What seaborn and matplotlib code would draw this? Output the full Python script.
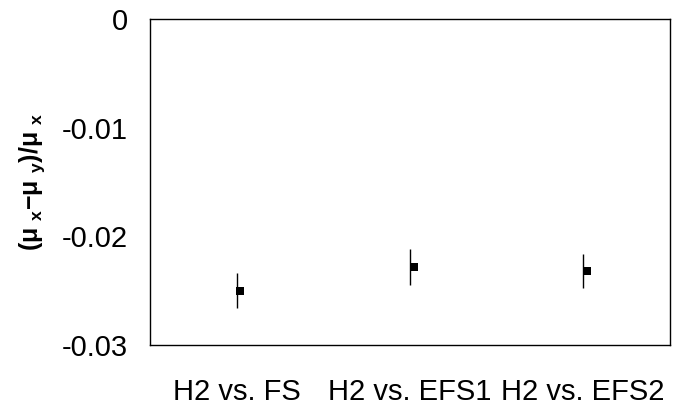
import matplotlib
matplotlib.use("Agg")
import matplotlib.pyplot as plt
import seaborn as sns
import pandas as pd

# Relative difference of means for each comparison, with half-width of interval
comparisons = ["H2 vs. FS", "H2 vs. EFS1", "H2 vs. EFS2"]
rel_diff = [-0.0250, -0.0228, -0.0232]
half_width = [0.00165, 0.00165, 0.0016]

y_ticks = [0, -0.01, -0.02, -0.03]
y_tick_labels = ["0", "-0.01", "-0.02", "-0.03"]

sns.set_theme(style="white")
plt.rcParams["font.family"] = ["Liberation Sans", "DejaVu Sans"]
plt.rcParams["mathtext.fontset"] = "custom"
plt.rcParams["mathtext.rm"] = "Liberation Sans"
plt.rcParams["mathtext.bf"] = "Liberation Sans:bold"
plt.rcParams["mathtext.it"] = "Liberation Sans:italic"

df = pd.DataFrame({"comparison": comparisons, "value": rel_diff, "err": half_width})
df["pos"] = range(len(df))

fig = plt.figure(figsize=(6.82, 4.11), dpi=100)
ax = fig.add_axes([0.22, 0.161, 0.762, 0.793])

# vertical interval lines
ax.vlines(df["pos"], df["value"] - df["err"], df["value"] + df["err"],
          color="black", linewidth=1.0, zorder=2)
# mean markers, nudged slightly right of the interval line
sns.scatterplot(x=df["pos"] + 0.022, y=df["value"], marker="s", s=30,
                color="black", edgecolor="black", linewidth=0, ax=ax, zorder=3)

ax.set_xlim(-0.5, 2.5)
ax.set_ylim(-0.03, 0)
ax.set_xticks(df["pos"])
ax.set_xticklabels(comparisons)
ax.set_yticks(y_ticks)
ax.set_yticklabels(y_tick_labels)

ax.tick_params(axis="x", length=0, pad=24, labelsize=21, colors="black")
ax.tick_params(axis="y", direction="in", length=10, width=1, color="#808080",
               pad=16, labelsize=21, labelcolor="black")

for side in ["left", "right", "top", "bottom"]:
    ax.spines[side].set_visible(True)
    ax.spines[side].set_color("black")
    ax.spines[side].set_linewidth(1.0)

ax.set_xlabel("")
ax.set_ylabel(r"(μ $_\mathregular{x}$−μ $_\mathregular{y}$)/μ $_\mathregular{x}$",
              fontsize=18, fontweight="bold", color="black")
ax.yaxis.set_label_coords(-0.199, 0.5)

fig.savefig("out.png", dpi=100)
